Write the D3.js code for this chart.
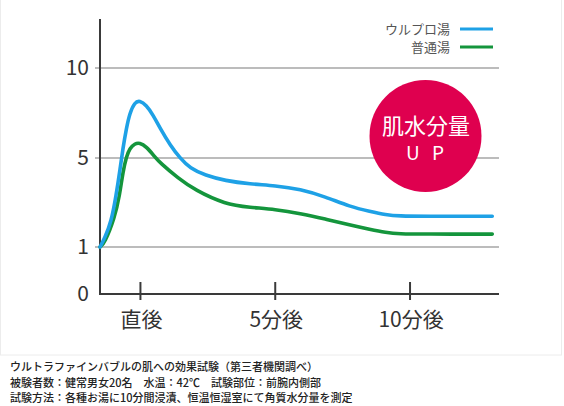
<!DOCTYPE html>
<html>
<head>
<meta charset="utf-8">
<script src="https://cdn.jsdelivr.net/npm/d3@7"></script>
<style>
  body { margin: 0; background: #fff; }
  svg { display: block; }
</style>
</head>
<body>
<svg></svg>
<script>
// minutes after bath (negative = before)
const blueTimes = [-1.5, -1.33, -1.08, -0.9, -0.77, -0.65, -0.52, -0.4, -0.21, -0.03, 0.22, 0.47, 0.73, 1.1, 1.47, 1.84, 2.4, 3.14, 4.07, 5.0, 5.93, 6.85, 7.78, 8.52, 9.1, 9.6, 10.5, 13.05];
const blueValues = [1, 1.39, 2.14, 3.34, 4.38, 5.54, 6.65, 7.48, 8.1, 8.2, 7.94, 7.39, 6.65, 5.72, 4.99, 4.54, 4.22, 3.98, 3.83, 3.76, 3.6, 3.26, 2.81, 2.6, 2.45, 2.39, 2.38, 2.38];
const greenTimes = [-1.5, -1.33, -0.96, -0.77, -0.65, -0.52, -0.4, -0.21, -0.03, 0.22, 0.53, 0.73, 1.4, 2.02, 3.14, 4.07, 5.0, 5.93, 6.85, 7.78, 8.52, 9.1, 9.6, 10.5, 13.05];
const greenValues = [1, 1.17, 2.29, 3.34, 4.38, 5.07, 5.54, 5.8, 5.85, 5.63, 5.07, 4.78, 4.09, 3.56, 2.92, 2.78, 2.69, 2.51, 2.26, 1.99, 1.79, 1.65, 1.59, 1.58, 1.58];

const seriesNames = ["ウルプロ湯", "普通湯"];
const seriesColors = ["#1ea1e6", "#14953c"];
const yTicks = [0, 1, 5, 10];
const xTicks = [0, 5, 10];
const xTickLabels = ["直後", "5分後", "10分後"];
const notes = [
    "ウルトラファインバブルの肌への効果試験（第三者機関調べ）",
    "被験者数：健常男女20名　水温：42℃　試験部位：前腕内側部",
    "試験方法：各種お湯に10分間浸漬、恒温恒湿室にて角質水分量を測定"
];

const svg = d3.select("svg").attr("width", 564).attr("height", 406);
const font = "'Noto Sans CJK JP', 'Noto Sans', sans-serif";

// faint frame
svg.append("rect")
    .attr("x", 0.5).attr("y", -2)
    .attr("width", 561).attr("height", 357)
    .attr("fill", "none").attr("stroke", "#ececec");

const x = d3.scaleLinear().domain([-1.5, 13.3]).range([100, 499]);
// the picture uses uneven spacing between 0, 1, 5 and 10
const y = d3.scaleLinear().domain([0, 1, 5, 10]).range([294, 247, 158, 68]);

// gridlines
svg.selectAll("line.grid")
    .data(yTicks.filter(d => d > 0))
    .join("line")
    .attr("class", "grid")
    .attr("x1", 95).attr("x2", 499)
    .attr("y1", d => y(d)).attr("y2", d => y(d))
    .attr("stroke", "#a6a6a6").attr("stroke-width", 1.5);

// axes
svg.append("line")
    .attr("x1", 100).attr("x2", 100).attr("y1", 19).attr("y2", y(0))
    .attr("stroke", "#3a3a3a").attr("stroke-width", 2);
svg.append("line")
    .attr("x1", 99).attr("x2", 499).attr("y1", y(0)).attr("y2", y(0))
    .attr("stroke", "#3a3a3a").attr("stroke-width", 2);

svg.selectAll("line.xtick")
    .data(xTicks)
    .join("line")
    .attr("class", "xtick")
    .attr("x1", d => x(d)).attr("x2", d => x(d))
    .attr("y1", y(0) - 12).attr("y2", y(0) + 6)
    .attr("stroke", "#3a3a3a").attr("stroke-width", 2);

svg.selectAll("text.ylab")
    .data(yTicks)
    .join("text")
    .attr("class", "ylab")
    .attr("x", 89)
    .attr("y", d => y(d))
    .attr("dy", "0.35em")
    .attr("text-anchor", "end")
    .attr("font-family", font)
    .attr("font-size", 21)
    .attr("fill", "#333")
    .text(d => d);

svg.selectAll("text.xlab")
    .data(xTicks)
    .join("text")
    .attr("class", "xlab")
    .attr("x", (d, i) => x(d) + 1)
    .attr("y", 320)
    .attr("dy", "0.35em")
    .attr("text-anchor", "middle")
    .attr("font-family", font)
    .attr("font-size", 21)
    .attr("fill", "#333")
    .text((d, i) => xTickLabels[i]);

// curves (b-spline smooths out reading noise)
const line = d3.line()
    .x(d => x(d[0]))
    .y(d => y(d[1]))
    .curve(d3.curveBasis);

const series = [
    d3.zip(blueTimes, blueValues),
    d3.zip(greenTimes, greenValues)
];

svg.selectAll("path.series")
    .data(series.slice().reverse())
    .join("path")
    .attr("class", "series")
    .attr("d", line)
    .attr("fill", "none")
    .attr("stroke", (d, i) => seriesColors[1 - i])
    .attr("stroke-width", 3.6)
    .attr("stroke-linecap", "round");

// legend
const legend = svg.selectAll("g.legend")
    .data(seriesNames)
    .join("g")
    .attr("class", "legend")
    .attr("transform", (d, i) => "translate(0," + (29 + i * 18) + ")");
legend.append("text")
    .attr("x", 450)
    .attr("dy", "0.35em")
    .attr("text-anchor", "end")
    .attr("font-family", font)
    .attr("font-size", 13)
    .attr("fill", "#555")
    .text(d => d);
legend.append("line")
    .attr("x1", 460).attr("x2", 493)
    .attr("stroke", (d, i) => seriesColors[i])
    .attr("stroke-width", 3);

// badge
svg.append("circle")
    .attr("cx", 425.5).attr("cy", 136).attr("r", 56)
    .attr("fill", "#df004f");
svg.append("text")
    .attr("x", 426).attr("y", 126).attr("dy", "0.35em")
    .attr("text-anchor", "middle")
    .attr("font-family", font).attr("font-size", 22)
    .attr("fill", "#fff")
    .text("肌水分量");
svg.append("text")
    .attr("x", 427).attr("y", 153).attr("dy", "0.35em")
    .attr("text-anchor", "middle")
    .attr("font-family", font).attr("font-size", 19)
    .attr("letter-spacing", 4)
    .attr("fill", "#fff")
    .text("U P");

// footnote
svg.selectAll("text.note")
    .data(notes)
    .join("text")
    .attr("class", "note")
    .attr("x", 10)
    .attr("y", (d, i) => 367 + i * 15.7)
    .attr("dy", "0.35em")
    .attr("font-family", font)
    .attr("font-size", 11)
    .attr("font-weight", 500)
    .attr("fill", "#222")
    .text(d => d);
</script>
</body>
</html>
